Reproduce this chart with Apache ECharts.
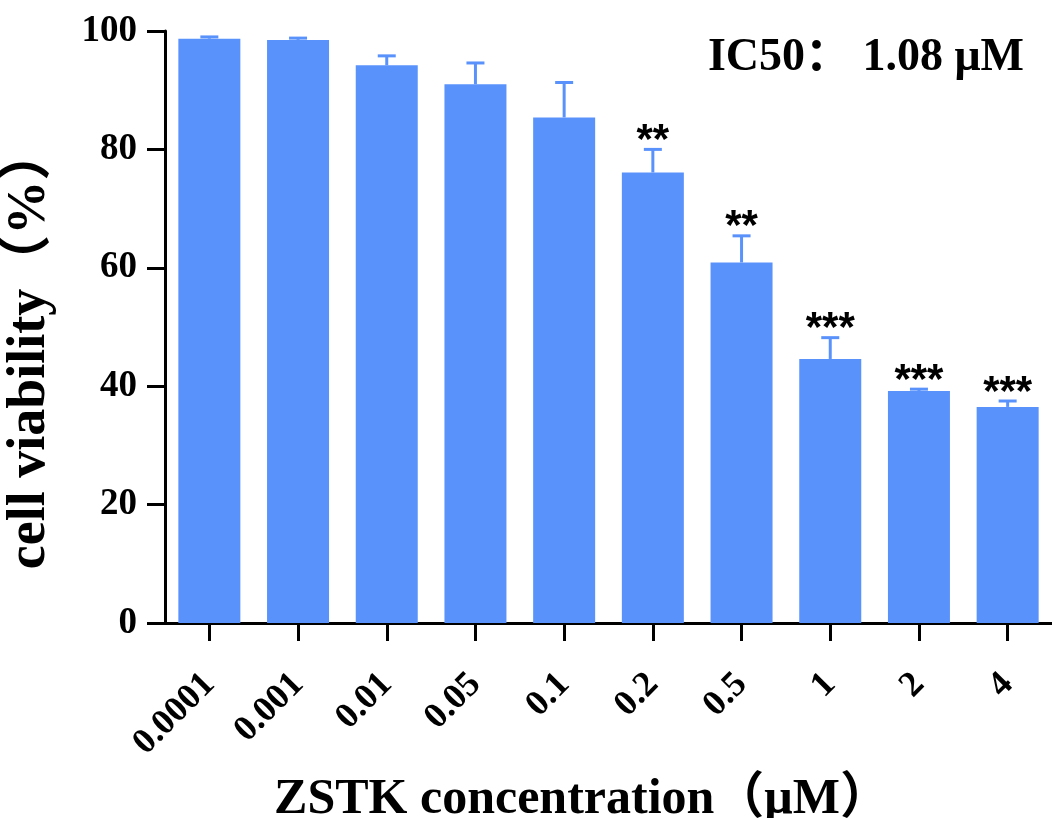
<!DOCTYPE html>
<html>
<head>
<meta charset="utf-8">
<script src="https://cdn.jsdelivr.net/npm/echarts@6/dist/echarts.min.js"></script>
<style>
html,body{margin:0;padding:0;background:#fff;}
#chart{width:1052px;height:818px;}
</style>
</head>
<body>
<div id="chart"></div>
<script>
const categories = ['0.0001','0.001','0.01','0.05','0.1','0.2','0.5','1','2','4'];
const viability = [98.7, 98.5, 94.2, 91.0, 85.4, 76.1, 60.9, 44.6, 39.2, 36.5];
const sdError = [0.3, 0.3, 1.6, 3.6, 5.9, 3.9, 4.5, 3.6, 0.3, 1.0];
const significance = ['', '', '', '', '', '**', '**', '***', '***', '***'];
const yTicks = [0, 20, 40, 60, 80, 100];
const xTitle = 'ZSTK concentration（μM）';
const yTitle = 'cell viability（%）';
const icText = 'IC50： 1.08 μM';

const BLUE = '#5A92FC';
const SERIF = '"Liberation Serif","Times New Roman","Noto Sans CJK SC",serif';

const chart = echarts.init(document.getElementById('chart'), null, {renderer: 'canvas'});

const errData = categories.map((c, i) => [i, viability[i], viability[i] + sdError[i]]);

const option = {
  backgroundColor: '#ffffff',
  animation: false,
  grid: {left: 165, top: 31, bottom: 195, right: -12, containLabel: false},
  xAxis: {
    type: 'category',
    data: categories,
    axisLine: {show: true, lineStyle: {color: '#000', width: 3}},
    axisTick: {show: true, inside: false, alignWithLabel: true, length: 18, lineStyle: {color: '#000', width: 3}},
    axisLabel: {rotate: 45, margin: 56, color: '#000', fontFamily: SERIF, fontWeight: 'bold', fontSize: 36, interval: 0}
  },
  yAxis: {
    type: 'value',
    min: yTicks[0],
    max: yTicks[yTicks.length - 1],
    interval: 20,
    splitLine: {show: false},
    axisLine: {show: true, lineStyle: {color: '#000', width: 3}},
    axisTick: {show: true, inside: false, length: 18, lineStyle: {color: '#000', width: 3}},
    axisLabel: {margin: 28, color: '#000', fontFamily: SERIF, fontWeight: 'bold', fontSize: 37}
  },
  series: [
    {
      type: 'bar',
      data: viability,
      barWidth: 62,
      itemStyle: {color: BLUE},
      z: 2
    },
    {
      type: 'custom',
      data: errData,
      z: 3,
      renderItem: function (params, api) {
        const i = api.value(0);
        const top = api.coord([i, api.value(1)]);
        const cap = api.coord([i, api.value(2)]);
        const half = 9;
        const style = {stroke: BLUE, lineWidth: 3};
        const label = significance[params.dataIndex];
        const children = [
          {type: 'line', shape: {x1: top[0], y1: top[1], x2: cap[0], y2: cap[1]}, style: style},
          {type: 'line', shape: {x1: cap[0] - half, y1: cap[1], x2: cap[0] + half, y2: cap[1]}, style: style}
        ];
        if (label) {
          children.push({
            type: 'text',
            style: {
              text: label, x: cap[0], y: cap[1] - 8,
              fill: '#000', font: 'bold 42px "Liberation Sans", Arial, sans-serif',
              textAlign: 'center', textVerticalAlign: 'middle'
            }
          });
        }
        return {type: 'group', children: children};
      }
    }
  ],
  graphic: [
    {
      type: 'text',
      x: 582, y: 800,
      style: {text: xTitle, fill: '#000', font: 'bold 50px ' + SERIF, textAlign: 'center', textVerticalAlign: 'middle'}
    },
    {
      type: 'text',
      x: 30, y: 348, rotation: Math.PI / 2,
      style: {text: yTitle, fill: '#000', font: 'bold 54px ' + SERIF, textAlign: 'center', textVerticalAlign: 'middle'}
    },
    {
      type: 'text',
      x: 1024, y: 58,
      style: {text: icText, fill: '#000', font: 'bold 46px ' + SERIF, textAlign: 'right', textVerticalAlign: 'middle'}
    }
  ]
};
chart.setOption(option);
</script>
</body>
</html>
